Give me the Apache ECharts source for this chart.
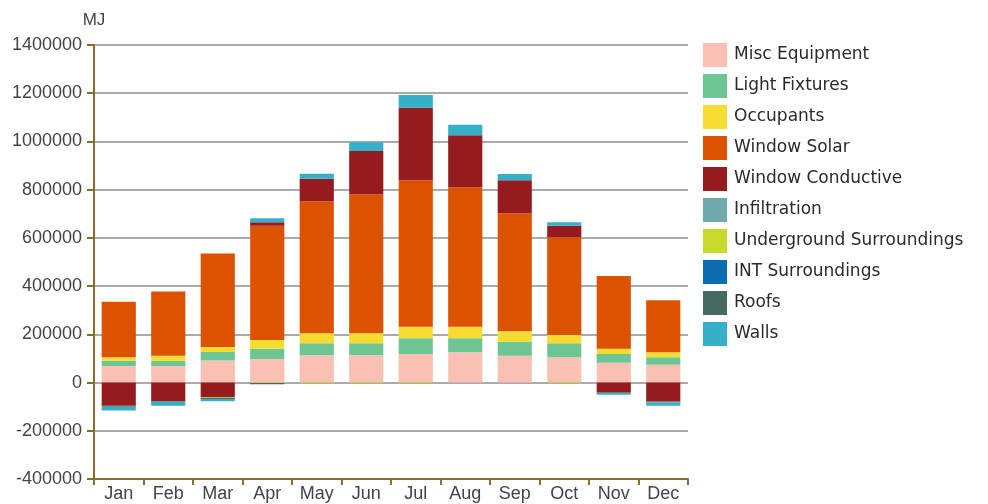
<!DOCTYPE html>
<html>
<head>
<meta charset="utf-8">
<script src="https://cdn.jsdelivr.net/npm/echarts@6/dist/echarts.min.js"></script>
<style>
  html, body { margin: 0; padding: 0; background: #fff; }
  #chart { width: 988px; height: 504px; }
</style>
</head>
<body>
<div id="chart"></div>
<script>
// months on the x axis
const months = ['Jan', 'Feb', 'Mar', 'Apr', 'May', 'Jun', 'Jul', 'Aug', 'Sep', 'Oct', 'Nov', 'Dec'];

// monthly heat gain components, MJ
const miscEquipment = [69000, 69000, 91000, 98000, 113000, 113000, 118600, 125700, 111600, 105000, 82500, 74200];
const lightFixtures = [21000, 21000, 36000, 42600, 50000, 50000, 65000, 58000, 58000, 58000, 36000, 31000];
const occupants = [15000, 21000, 20000, 36000, 41500, 41500, 48000, 48000, 43000, 34400, 22000, 20700];
const windowSolar = [230000, 267000, 388000, 474000, 547500, 576400, 607000, 578000, 489400, 405200, 301500, 215600];
const windowConductive = [-96000, -76000, -60000, 14000, 93600, 179600, 301000, 215600, 137000, 48000, -40000, -79000];
const infiltration = [0, 0, 0, 0, 0, 0, 0, 0, 0, 0, 0, 0];
const undergroundSurroundings = [0, 0, -3000, -2000, -3000, -3000, -3000, 0, 0, -3000, 0, 0];
const intSurroundings = [0, 0, 0, 0, 0, 0, 0, 0, 0, 0, 0, 0];
const roofs = [-4000, -4000, -5000, -5000, 0, 0, 0, 0, 0, 0, -3000, -4000];
const walls = [-16000, -16000, -10000, 16600, 20700, 36000, 52700, 44000, 26000, 14000, -8000, -13000];

const yTicks = { min: -400000, max: 1400000, interval: 200000 };

const seriesDefs = [
  ['Misc Equipment', miscEquipment, '#f9c0b3'],
  ['Light Fixtures', lightFixtures, '#6cc593'],
  ['Occupants', occupants, '#f6dc31'],
  ['Window Solar', windowSolar, '#db5300'],
  ['Window Conductive', windowConductive, '#951b1f'],
  ['Infiltration', infiltration, '#6fa9ad'],
  ['Underground Surroundings', undergroundSurroundings, '#c8da2b'],
  ['INT Surroundings', intSurroundings, '#0b6db0'],
  ['Roofs', roofs, '#456a5f'],
  ['Walls', walls, '#36b0c9']
];

const axisBrown = '#8c6b2e';

const chart = echarts.init(document.getElementById('chart'));
chart.setOption({
  animation: false,
  grid: { left: 94, right: 300, top: 45, bottom: 25 },
  legend: {
    orient: 'vertical',
    left: 703,
    top: 43,
    padding: 0,
    itemWidth: 24,
    itemHeight: 24,
    itemGap: 7,
    icon: 'rect',
    data: seriesDefs.map(d => d[0]),
    textStyle: { fontFamily: 'DejaVu Sans', fontSize: 17, lineHeight: 20, color: '#2a2a2a', padding: [0, 0, 0, 2] }
  },
  xAxis: {
    type: 'category',
    data: months,
    axisLine: { onZero: false, lineStyle: { color: axisBrown, width: 2 } },
    axisTick: { show: true, length: 6, lineStyle: { color: axisBrown, width: 2 } },
    axisLabel: { margin: 6, fontFamily: 'Liberation Sans', fontSize: 18, color: '#444' }
  },
  yAxis: {
    type: 'value',
    min: yTicks.min,
    max: yTicks.max,
    interval: yTicks.interval,
    name: 'MJ',
    nameGap: 16,
    nameTextStyle: { fontFamily: 'Liberation Sans', fontSize: 17, color: '#444' },
    axisLine: { show: true, lineStyle: { color: axisBrown, width: 2 } },
    axisTick: { show: true, length: 7, lineStyle: { color: axisBrown, width: 2 } },
    axisLabel: {
      margin: 12, fontFamily: 'Liberation Sans', fontSize: 18, color: '#444',
      formatter: v => String(v)
    },
    splitLine: { lineStyle: { color: '#aaaaaa', width: 2 } }
  },
  series: seriesDefs.map(([name, data, color]) => ({
    name: name,
    type: 'bar',
    stack: 'gain',
    data: data,
    barCategoryGap: '31%',
    itemStyle: { color: color }
  }))
});
</script>
</body>
</html>
